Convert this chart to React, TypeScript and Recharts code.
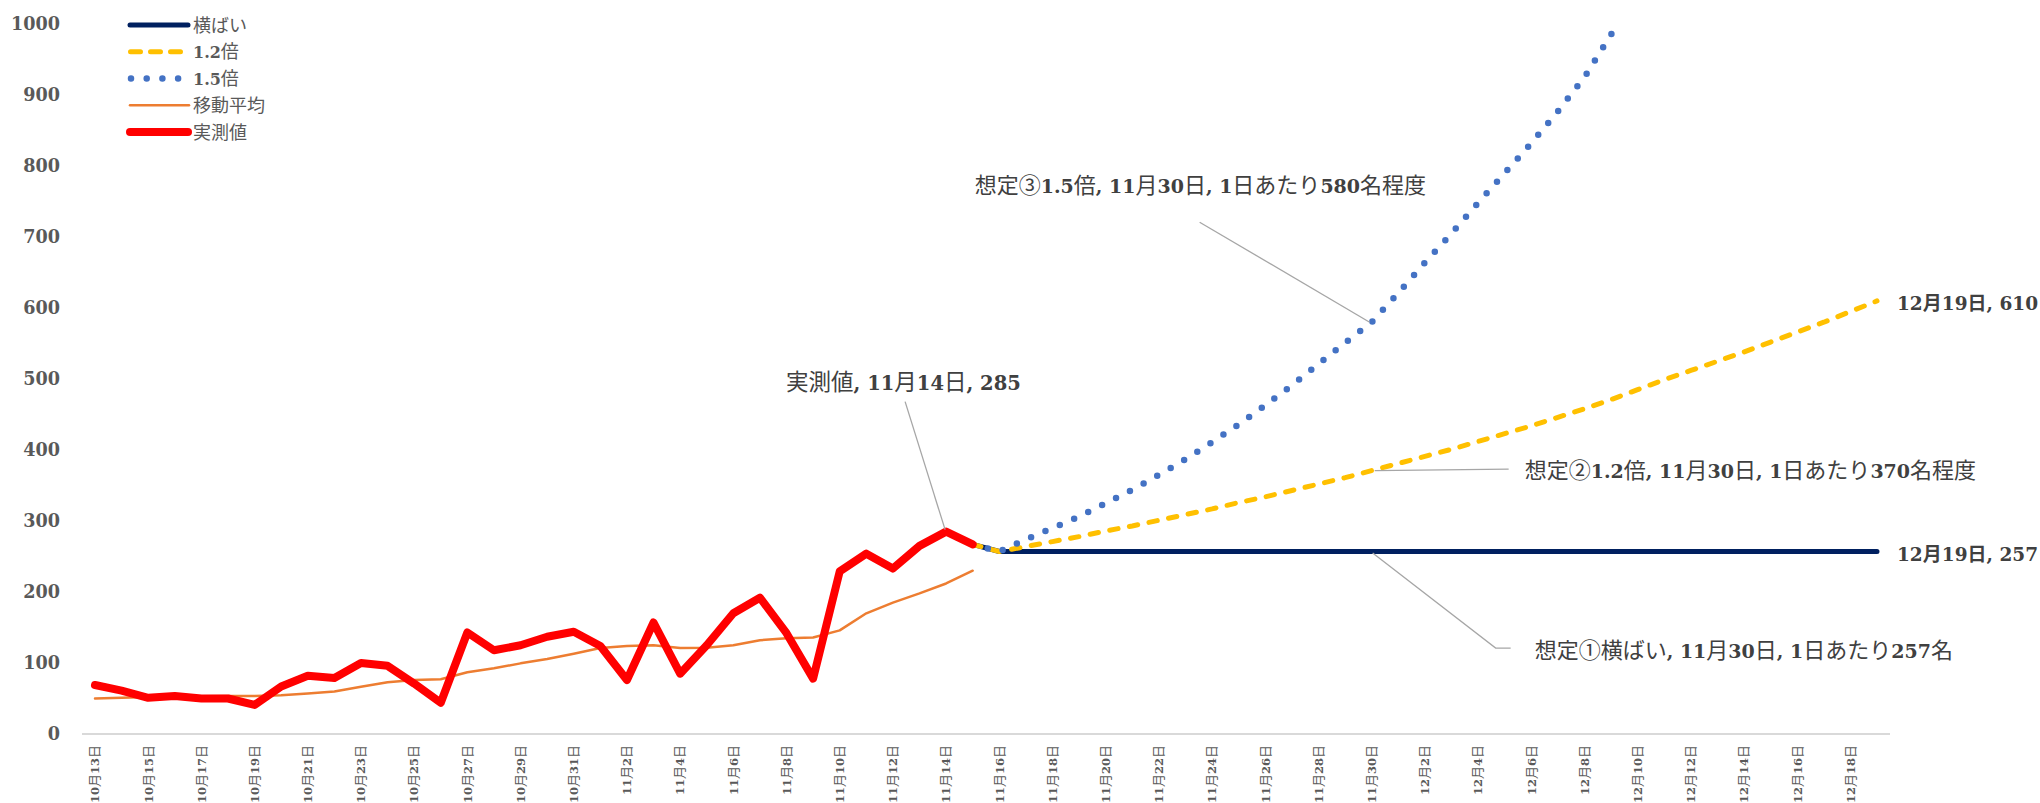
import React from 'react';
import { LineChart, Line, XAxis, YAxis, Legend, ReferenceDot } from 'recharts';

// ---------- data ----------
const DATES = [
  '10月13日', '10月14日', '10月15日', '10月16日', '10月17日', '10月18日', '10月19日', '10月20日',
  '10月21日', '10月22日', '10月23日', '10月24日', '10月25日', '10月26日', '10月27日', '10月28日',
  '10月29日', '10月30日', '10月31日',
  '11月1日', '11月2日', '11月3日', '11月4日', '11月5日', '11月6日', '11月7日', '11月8日',
  '11月9日', '11月10日', '11月11日', '11月12日', '11月13日', '11月14日', '11月15日', '11月16日',
  '11月17日', '11月18日', '11月19日', '11月20日', '11月21日', '11月22日', '11月23日', '11月24日',
  '11月25日', '11月26日', '11月27日', '11月28日', '11月29日', '11月30日',
  '12月1日', '12月2日', '12月3日', '12月4日', '12月5日', '12月6日', '12月7日', '12月8日',
  '12月9日', '12月10日', '12月11日', '12月12日', '12月13日', '12月14日', '12月15日', '12月16日',
  '12月17日', '12月18日', '12月19日',
];

// 実測値: 10/13 .. 11/15
const ACTUAL = [
  69, 61, 51, 53.5, 50, 50, 41, 67, 82, 79, 100, 96, 71, 44, 143, 118, 125, 137,
  144, 124, 76, 157, 85, 125, 170, 192, 142, 78, 229, 254, 233, 265, 285, 267,
];

// 移動平均: 10/13 .. 11/15
const MOVING_AVG = [
  50, 51, 52, 52.5, 53, 53.5, 53.5, 54.5, 57, 60, 66.5, 73, 76, 77, 87, 92.5, 99.5, 105.5,
  113, 121, 124, 125, 121, 121.5, 125, 132, 135, 136, 146, 170, 185, 198, 212, 230,
];

// projections start on this date
const PROJ_START = '11月15日';

// 横ばい: 11/15 .. 12/19
const FLAT = [
  267, 257, 257, 257, 257, 257, 257, 257, 257, 257, 257, 257, 257, 257, 257, 257, 257, 257,
  257, 257, 257, 257, 257, 257, 257, 257, 257, 257, 257, 257, 257, 257, 257, 257, 257,
];

// 1.2倍: 11/15 .. 12/19
const X12 = [
  267, 257, 264, 271, 278, 286, 293, 301, 309, 317, 326, 334, 343, 352, 361, 371, 381, 391,
  401, 412, 423, 434, 446, 458, 471, 485, 499, 512, 525, 538, 552, 566, 580, 595, 610,
];

// 1.5倍: 11/15 .. 12/10
const X15 = [
  267, 257, 274, 290, 306, 325, 344, 365, 387, 411, 436, 463, 491, 521, 551, 580, 621, 664,
  705, 748, 790, 832, 877, 925, 985, 1045,
];

const Y_TICKS = [0, 100, 200, 300, 400, 500, 600, 700, 800, 900, 1000];

const projIdx = DATES.indexOf(PROJ_START);
const rows = DATES.map((date, i) => ({
  date,
  actual: ACTUAL[i],
  ma: MOVING_AVG[i],
  flat: FLAT[i - projIdx],
  x12: X12[i - projIdx],
  x15: X15[i - projIdx],
}));

// ---------- styles ----------
const SERIF = "'DejaVu Serif', serif";
const JP = "'Noto Sans CJK JP', sans-serif";

type SeriesStyle = {
  key: string; name: string; color: string; width: number; dash?: string;
  lx1: number; lx2: number;
};
const SERIES: SeriesStyle[] = [
  { key: 'flat', name: '横ばい', color: '#002060', width: 5, lx1: 130, lx2: 188 },
  { key: 'x12', name: '1.2倍', color: '#FFC000', width: 5, dash: '8.5 11.5', lx1: 130.5, lx2: 190 },
  { key: 'x15', name: '1.5倍', color: '#4472C4', width: 6.5, dash: '0 15.6', lx1: 131, lx2: 179 },
  { key: 'ma', name: '移動平均', color: '#ED7D31', width: 2.5, lx1: 130, lx2: 189 },
  { key: 'actual', name: '実測値', color: '#FF0000', width: 8, lx1: 130, lx2: 188 },
];
const LEGEND_DASH: Record<string, string> = { x12: '10 10', x15: '0 15.7' };

// split text into ASCII (serif bold) and Japanese (sans) runs
const splitRuns = (s: string) =>
  s.split(/([0-9.,\s]+)/).filter((t) => t.length > 0).map((t) => ({
    t,
    ascii: /^[0-9.,\s]+$/.test(t),
  }));

type MixedProps = {
  text: string; serifSize: number; jpSize: number; jpWeight?: number | string; commaGap?: number;
};
const MixedRuns = ({ text, serifSize, jpSize, jpWeight = 400 }: MixedProps) => (
  <>
    {splitRuns(text).map((r, i) =>
      r.ascii ? (
        <tspan key={i} fontFamily={SERIF} fontWeight="bold" fontSize={serifSize} style={{ whiteSpace: 'pre' }}>
          {r.t}
        </tspan>
      ) : (
        <tspan key={i} fontFamily={JP} fontWeight={jpWeight} fontSize={jpSize} style={{ whiteSpace: 'pre' }}>
          {r.t}
        </tspan>
      )
    )}
  </>
);

// ---------- ticks ----------
const XTick = (props: any) => {
  const { x, y, payload } = props;
  return (
    <g transform={`translate(${x},${y + 3})`}>
      <text transform="rotate(-90)" textAnchor="end" dy="0.36em" fontSize={12} fill="#595959">
        <MixedRuns text={String(payload.value)} serifSize={11.5} jpSize={13} />
      </text>
    </g>
  );
};

const YTick = (props: any) => {
  const { x, y, payload } = props;
  return (
    <text x={x} y={y} dy="0.36em" textAnchor="end" fontFamily={SERIF} fontWeight="bold" fontSize={17.6} fill="#595959">
      {payload.value}
    </text>
  );
};

// ---------- legend ----------
const LegendContent = () => (
  <svg width={330} height={150} style={{ display: 'block' }}>
    {SERIES.map((s, i) => {
      const y = 25 + i * 26.75;
      return (
        <g key={s.key}>
          <line
            x1={s.lx1} x2={s.lx2} y1={y} y2={y}
            stroke={s.color} strokeWidth={s.width} strokeLinecap="round"
            strokeDasharray={LEGEND_DASH[s.key]}
          />
          <text x={193} y={y + 6.5} fill="#595959">
            <MixedRuns text={s.name} serifSize={16} jpSize={18} />
          </text>
        </g>
      );
    })}
  </svg>
);

// ---------- annotations ----------
const dateIdx = (d: string) => DATES.indexOf(d) - projIdx;
type Ann = {
  x: string; y: number; text: string;
  leader?: number[][]; tx: number; ty: number; jpWeight?: number | string;
  serifSize: number; jpSize: number;
};
const ANNOTATIONS: Ann[] = [
  {
    x: '11月14日', y: ACTUAL[DATES.indexOf('11月14日')], text: '実測値, 11月14日, 285',
    leader: [[-1, -2], [-41, -130]], tx: -160, ty: -142, serifSize: 19.5, jpSize: 22.5,
  },
  {
    x: '11月30日', y: X15[dateIdx('11月30日')], text: '想定③1.5倍, 11月30日, 1日あたり580名程度',
    leader: [[-2, 0], [-172, -100]], tx: -397, ty: -129, serifSize: 19, jpSize: 22,
  },
  {
    x: '11月30日', y: X12[dateIdx('11月30日')], text: '想定②1.2倍, 11月30日, 1日あたり370名程度',
    leader: [[3, 0], [137, -1.5]], tx: 153, ty: 7.5, serifSize: 19, jpSize: 22,
  },
  {
    x: '11月30日', y: FLAT[dateIdx('11月30日')], text: '想定①横ばい, 11月30日, 1日あたり257名',
    leader: [[1, 1.5], [124, 96.5], [139, 96.5]], tx: 163, ty: 106.5, serifSize: 19, jpSize: 22,
  },
  {
    x: '12月19日', y: X12[dateIdx('12月19日')], text: '12月19日, 610',
    tx: 20, ty: 9, serifSize: 18.5, jpSize: 19, jpWeight: 'bold',
  },
  {
    x: '12月19日', y: FLAT[dateIdx('12月19日')], text: '12月19日, 257',
    tx: 20, ty: 9.5, serifSize: 18.5, jpSize: 19, jpWeight: 'bold',
  },
];

const AnnotationShape = (props: any) => {
  const { cx, cy, ann } = props as { cx: number; cy: number; ann: Ann };
  if (cx == null || cy == null) return null;
  return (
    <g>
      {ann.leader && (
        <polyline
          points={ann.leader.map(([dx, dy]) => `${cx + dx},${cy + dy}`).join(' ')}
          fill="none" stroke="#A6A6A6" strokeWidth={1.3}
        />
      )}
      <text x={cx + ann.tx} y={cy + ann.ty} fill="#404040">
        <MixedRuns text={ann.text} serifSize={ann.serifSize} jpSize={ann.jpSize} jpWeight={ann.jpWeight} />
      </text>
    </g>
  );
};

export default function App() {
  return (
    <div style={{ width: 2040, height: 803, background: '#fff' }}>
      <style>{'html,body{margin:0;padding:0;overflow:hidden;background:#fff}'}</style>
      <LineChart
        width={2040}
        height={803}
        data={rows}
        margin={{ top: 24, right: 150, bottom: 0, left: 0 }}
      >
        <XAxis
          dataKey="date"
          interval={1}
          padding={{ left: 13, right: 13 }}
          axisLine={{ stroke: '#D9D9D9', strokeWidth: 2 }}
          tickLine={false}
          height={69}
          tick={<XTick />}
        />
        <YAxis
          domain={[0, 1000]}
          ticks={Y_TICKS}
          interval={0}
          allowDataOverflow
          axisLine={false}
          tickLine={false}
          tickSize={20}
          width={82}
          tick={<YTick />}
        />
        <Legend
          content={<LegendContent />}
          layout="horizontal"
          verticalAlign="middle"
          align="center"
          wrapperStyle={{ position: 'absolute', left: 0, top: 0, width: 330, height: 150 }}
        />
        {SERIES.map((s) => (
          <Line
            key={s.key}
            dataKey={s.key}
            name={s.name}
            type="linear"
            stroke={s.color}
            strokeWidth={s.width}
            strokeDasharray={s.dash}
            strokeLinecap="round"
            strokeLinejoin="round"
            dot={false}
            activeDot={false}
            isAnimationActive={false}
          />
        ))}
        {ANNOTATIONS.map((a, i) => (
          <ReferenceDot
            key={i}
            x={a.x}
            y={a.y}
            r={1}
            ifOverflow="visible"
            shape={(p: any) => <AnnotationShape {...p} ann={a} />}
          />
        ))}
      </LineChart>
    </div>
  );
}
